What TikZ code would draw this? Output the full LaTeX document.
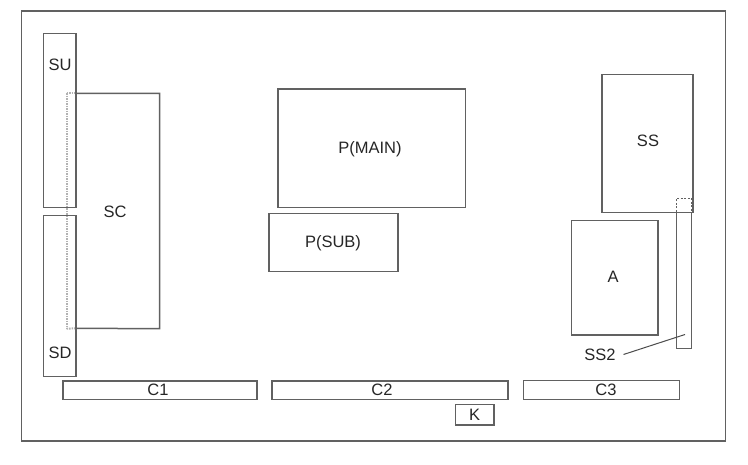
\documentclass[tikz,border=0pt]{standalone}
\usepackage{fontspec}
\setmainfont{Liberation Sans}
\begin{document}
\begin{tikzpicture}[x=1pt,y=-1pt,
  ln/.style={draw=black!62,line width=1.5pt},
  box/.style={ln,rectangle,inner sep=0pt,anchor=north west},
  lbl/.style={font=\fontsize{16.5}{16.5}\selectfont,text=black!85,inner sep=0pt},
  hid/.style={draw=black!30,line width=2pt,dash pattern=on 1.5pt off 1pt}]
\useasboundingbox (0,0) rectangle (748,465);
\fill[white] (0,0) rectangle (748,465);
% outer frame
\node[box,minimum width=704pt,minimum height=430pt] (frame) at (20.5,10.5) {};
% SC (left part hidden behind SU/SD)
\node[inner sep=0pt,anchor=north west,minimum width=92.6pt,minimum height=235pt] (sc) at (66.7,93.3) {};
\draw[ln] (75,93.3) -- (sc.north east) -- (sc.south east) -- (75,328.3);
\node[lbl] (sclbl) at (115,212) {SC};
% SU / SD
\node[box,minimum width=32.6pt,minimum height=174pt] (su) at (42.7,32.7) {};
\node[lbl] at (60,64.5) {SU};
\node[box,minimum width=32.3pt,minimum height=161pt] (sd) at (42.7,215) {};
\node[lbl] at (60,353) {SD};
\draw[hid] (sc.north west) -- (sc.south west);
\draw[hid] (sc.north west) -- (75,93.3);
\draw[hid] (sc.south west) -- (75,328.3);
% P(MAIN), P(SUB)
\node[box,minimum width=187.4pt,minimum height=118.4pt] (pmain) at (277.3,88.3) {};
\node[lbl] at (370,149) {P(MAIN)};
\node[box,minimum width=129pt,minimum height=58.3pt] (psub) at (268.3,212.7) {};
\node[lbl] at (333,243) {P(SUB)};
% SS
\node[box,minimum width=91pt,minimum height=137.7pt] (ss) at (601,74) {};
\node[lbl] at (648,141) {SS};
% A
\node[box,minimum width=86.6pt,minimum height=114.3pt] (a) at (570.7,220) {};
\node[lbl] at (613,277) {A};
% SS2 strip
\coordinate (ss2tl) at (676.7,198.3);
\coordinate (ss2tr) at (691.3,198.3);
\draw[ln] (676.7,211.7) -- (676.7,348.3) -- (691.3,348.3) -- (691.3,211.7);
\draw[ln,line width=1pt,dash pattern=on 2pt off 1.5pt] (676.7,211.7) -- (ss2tl) -- (ss2tr) -- (691.3,211.7);
\node[lbl] (ss2) at (600,355) {SS2};
\coordinate (ss2end) at (685,334.5);
\draw[draw=black!70,line width=1pt] (623.5,354.5) -- (ss2end);
% C1 C2 C3 K
\node[box,minimum width=193.7pt,minimum height=18.7pt] (c1) at (62.3,380.3) {};
\node[lbl] at (158,389.5) {C1};
\node[box,minimum width=236pt,minimum height=18.7pt] (c2) at (271,380.3) {};
\node[lbl] at (382,389.5) {C2};
\node[box,minimum width=156pt,minimum height=19pt] (c3) at (522.7,379.8) {};
\node[lbl] at (606,389.5) {C3};
\node[box,minimum width=38.3pt,minimum height=20.3pt] (k) at (454.7,404) {};
\node[lbl] at (k.center) {K};
\end{tikzpicture}
\end{document}
